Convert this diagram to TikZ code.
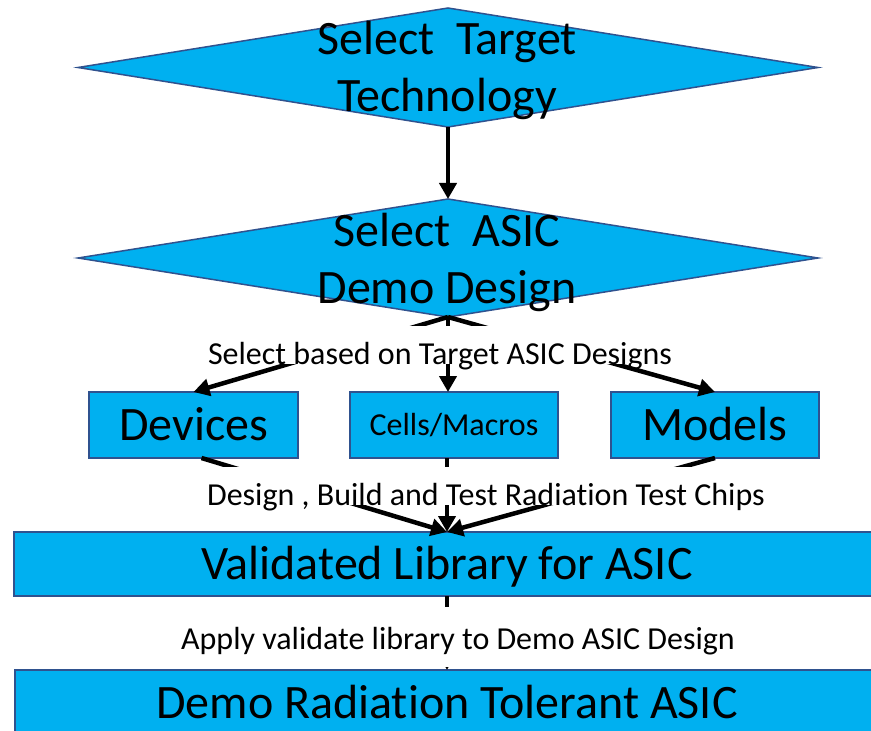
\documentclass[tikz,border=0pt]{standalone}
\usepackage{fontspec}
\setmainfont{Carlito}[Ligatures=NoCommon]
\usetikzlibrary{arrows.meta,shapes.geometric}
\definecolor{boxfill}{HTML}{00B0F0}
\definecolor{boxline}{HTML}{2F528F}
\begin{document}
\begin{tikzpicture}[x=1bp,y=-1bp,
  decision/.style={diamond, draw=boxline, fill=boxfill, line width=1.5bp,
    inner sep=0pt, outer sep=0pt, minimum width=740bp},
  procbox/.style={rectangle, draw=boxline, fill=boxfill, line width=1.5bp,
    inner sep=0pt, outer sep=0pt, text depth=0pt},
  bigtext/.style={font=\fontsize{48bp}{57bp}\selectfont},
  smalltext/.style={font=\fontsize{32bp}{38bp}\selectfont},
  steptext/.style={font=\fontsize{32bp}{38bp}\selectfont, fill=white,
    inner xsep=4bp, inner ysep=0pt, anchor=base},
  flow/.style={line width=4.5bp, -{Triangle[length=16bp,width=17bp]}}
]
\useasboundingbox (0,0) rectangle (871,731);
\clip (0,0) rectangle (871,731);

% decision diamonds and their captions
\node[decision, minimum height=119bp] (d1) at (448,67.5) {};
\node[bigtext, align=center, anchor=base, inner sep=0pt] (t1) at (447,112)
  {Select\ \ Target\\Technology};
\node[decision, minimum height=118bp] (d2) at (448,258) {};
\node[bigtext, align=center, anchor=base, inner sep=0pt] (t2) at (447,303)
  {Select\ \ ASIC\\Demo Design};

% building blocks
\node[procbox, bigtext, text height=30bp, minimum width=209bp, minimum height=66bp]
  (dev) at (193.5,425) {Devices};
\node[procbox, smalltext, text height=20bp, minimum width=208bp, minimum height=66bp]
  (cel) at (454,425) {Cells/Macros};
\node[procbox, bigtext, text height=30bp, minimum width=208bp, minimum height=66bp]
  (mod) at (715,425) {Models};

% library and final ASIC
\node[procbox, bigtext, text height=30bp, minimum width=866bp, minimum height=64bp]
  (val) at (447,564) {Validated Library for ASIC};
\node[procbox, bigtext, text height=30bp, minimum width=864bp, minimum height=67bp]
  (dem) at (447,703.5) {Demo Radiation Tolerant ASIC};

% connectors
\draw[flow] (d1.south) -- (d2.north);
\draw[flow] (d2.south) -- (dev.north);
\draw[flow] (d2.south) -- (d2.south |- cel.north);
\draw[flow] (d2.south) -- (mod.north);
\draw[flow] ([xshift=8bp]dev.south) -- (val.north);
\draw[flow] (cel.south -| val.north) -- (val.north);
\draw[flow] (mod.south) -- (val.north);
\draw[flow] (val.south) -- (dem.north);

% step captions laid over the connectors
\node[steptext, text height=38bp, text depth=0pt] (s1) at (440,364)
  {Select based on Target ASIC Designs};
\node[steptext, text height=38bp, text depth=0pt] (s2) at (486,505)
  {Design , Build and Test Radiation Test Chips};
\node[steptext, text height=42bp, text depth=18bp] (s3) at (458,649)
  {Apply validate library to Demo ASIC Design};
\end{tikzpicture}
\end{document}
